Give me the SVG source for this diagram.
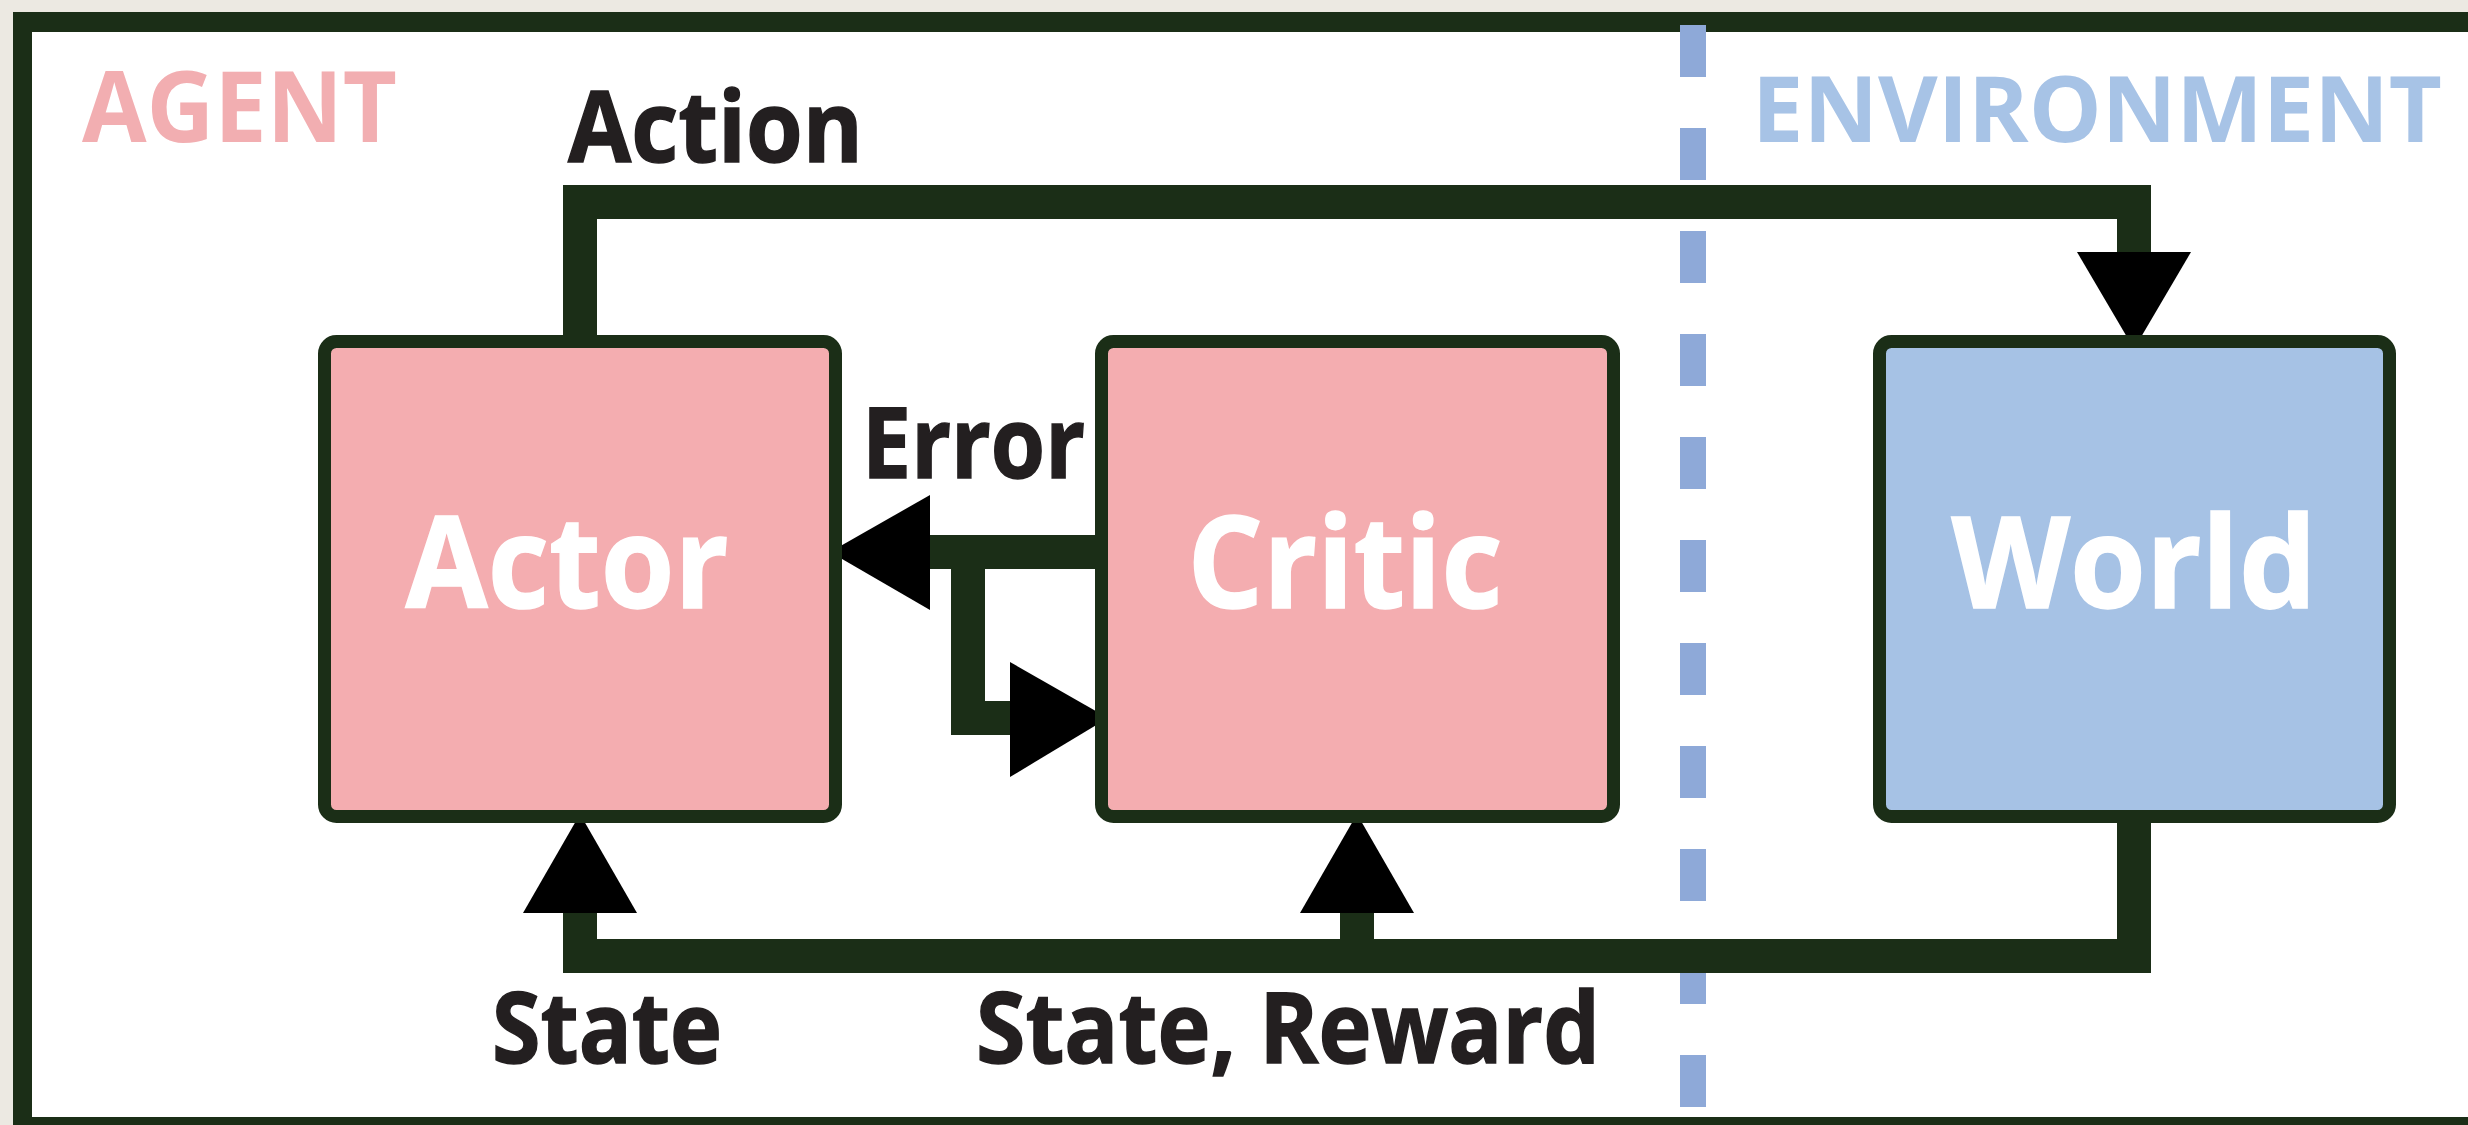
<svg xmlns="http://www.w3.org/2000/svg" width="2468" height="1125" viewBox="0 0 2468 1125">
  <style>
    .node { stroke: #1b2e17; stroke-width: 13; }
    .actorcritic { fill: #f4adb0; }
    .env { fill: #a6c2e5; }
    .wire { fill: none; stroke: #1b2e17; stroke-width: 34; stroke-linejoin: miter; stroke-linecap: butt; }
    .head { fill: #000000; }
    .lbl { font-family: "Open Sans", "Liberation Sans", sans-serif; font-weight: 700; font-size: 98px; fill: #231f20; stroke: #231f20; stroke-width: 1.5; }
    .zone { font-family: "Open Sans", "Liberation Sans", sans-serif; font-weight: 700; }
    .name { font-family: "Open Sans", "Liberation Sans", sans-serif; font-weight: 700; font-size: 128px; fill: #ffffff; stroke: #ffffff; stroke-width: 1.5; text-anchor: middle; }
  </style>

  <!-- page background and frame -->
  <rect x="0" y="0" width="2468" height="1125" fill="#ece9e2"/>
  <rect x="13" y="12" width="2455" height="1113" fill="#1b2e17"/>
  <rect x="32" y="32" width="2436" height="1085" fill="#ffffff"/>

  <!-- agent / environment divider -->
  <line x1="1693" y1="25" x2="1693" y2="1117" stroke="#8ea9d8" stroke-width="26" stroke-dasharray="52 51"/>

  <!-- zone titles -->
  <text class="zone" x="82" y="142" font-size="98" fill="#f2aeb1" textLength="315" lengthAdjust="spacingAndGlyphs">AGENT</text>
  <text class="zone" x="1752" y="142" font-size="92" fill="#a7c3e6" textLength="690" lengthAdjust="spacingAndGlyphs">ENVIRONMENT</text>

  <!-- connectors -->
  <g id="connectors">
    <!-- Action: Actor -> World -->
    <polyline class="wire" points="580,336 580,202 2134,202 2134,256"/>
    <polygon class="head" points="2077,252 2191,252 2134,349"/>
    <!-- State / State, Reward: World -> Actor, Critic -->
    <polyline class="wire" points="2134,822 2134,956 580,956 580,910"/>
    <polygon class="head" points="523,913 637,913 580,814"/>
    <line class="wire" x1="1357" y1="956" x2="1357" y2="910"/>
    <polygon class="head" points="1300,913 1414,913 1357,814"/>
    <!-- Error: Critic -> Actor, and back into Critic -->
    <polyline class="wire" points="1096,552 926,552"/>
    <polygon class="head" points="930,495 930,610 830,552"/>
    <polyline class="wire" points="968,552 968,718 1014,718"/>
    <polygon class="head" points="1010,662 1010,777 1108,718"/>
  </g>

  <!-- connector labels -->
  <text class="lbl" x="568" y="162" textLength="295" lengthAdjust="spacingAndGlyphs">Action</text>
  <text class="lbl" x="862" y="478" textLength="223" lengthAdjust="spacingAndGlyphs">Error</text>
  <text class="lbl" x="492" y="1063" textLength="230" lengthAdjust="spacingAndGlyphs">State</text>
  <text class="lbl" x="976" y="1063" textLength="624" lengthAdjust="spacingAndGlyphs">State, Reward</text>

  <!-- nodes -->
  <g id="actor">
    <rect class="node actorcritic" x="324.5" y="341.5" width="511" height="475" rx="12"/>
    <text class="name" x="567" y="608" textLength="323" lengthAdjust="spacingAndGlyphs">Actor</text>
  </g>
  <g id="critic">
    <rect class="node actorcritic" x="1101.5" y="341.5" width="512" height="475" rx="12"/>
    <text class="name" x="1345" y="608" textLength="315" lengthAdjust="spacingAndGlyphs">Critic</text>
  </g>
  <g id="world">
    <rect class="node env" x="1879.5" y="341.5" width="510" height="475" rx="12"/>
    <text class="name" x="2134" y="608" textLength="365" lengthAdjust="spacingAndGlyphs">World</text>
  </g>
</svg>
